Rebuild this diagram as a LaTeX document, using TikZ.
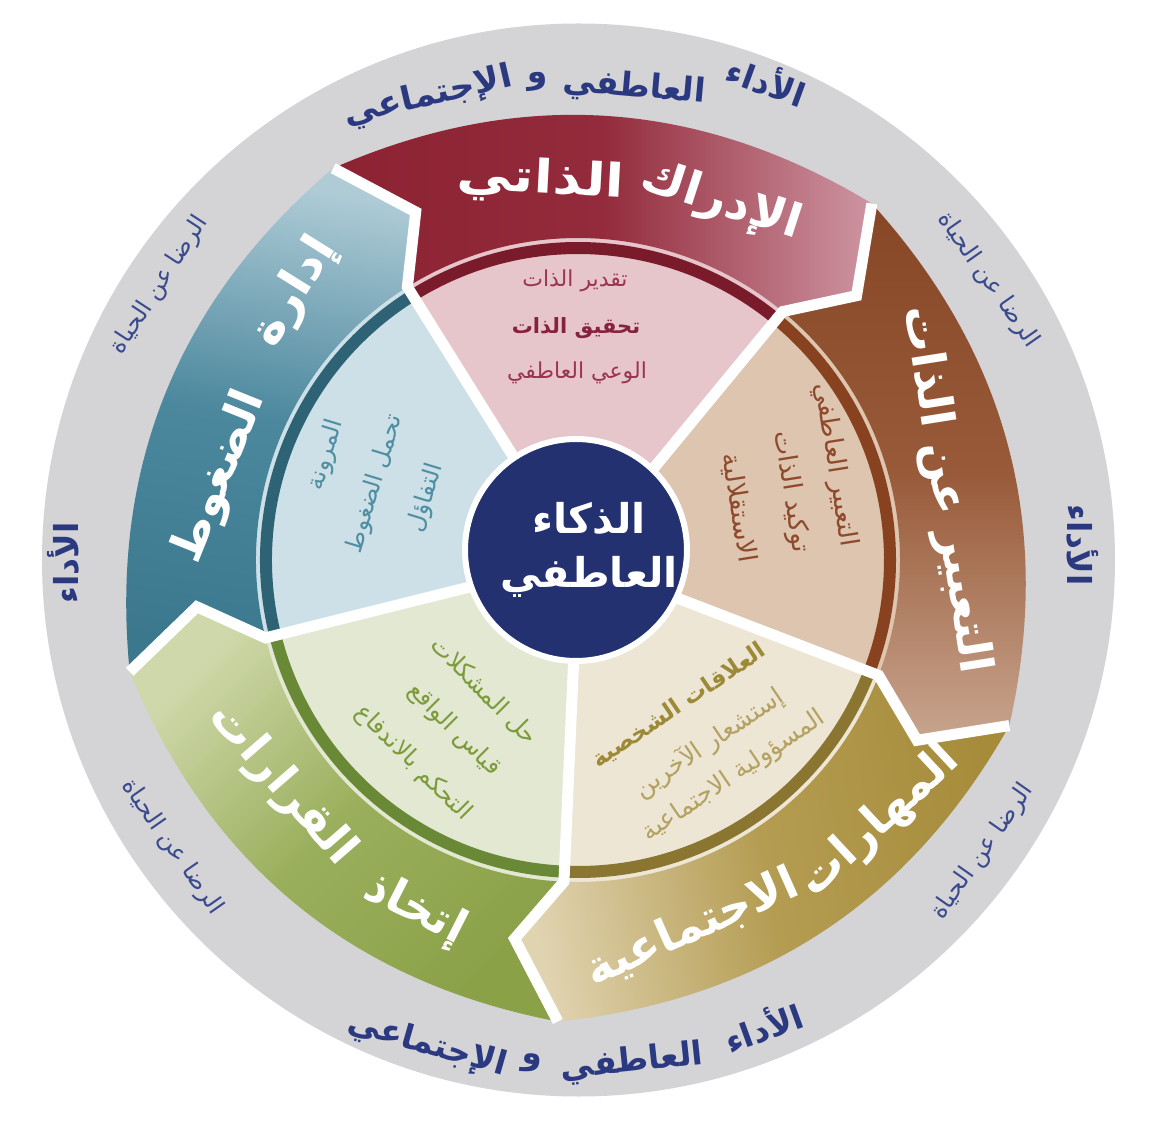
\documentclass[tikz,border=0pt]{standalone}
\usepackage{graphicx}
\usepackage{fontspec}
\usetikzlibrary{calc}
\newfontfamily\ar[Script=Arabic]{DejaVu Sans}
\TeXXeTstate=1
\newcommand{\AR}[1]{\beginR#1\endR}
\newcommand{\SX}[2]{\scalebox{#1}[1]{\beginR#2\endR}}

\definecolor{ringgrey}{HTML}{D4D4D6}
\definecolor{navyc}{HTML}{233170}
\definecolor{navyt}{HTML}{2B3A80}
\definecolor{lifec}{HTML}{3A4A8E}
\definecolor{redD}{HTML}{8C2232}
\definecolor{redM}{HTML}{932B3C}
\definecolor{redL}{HTML}{CE95A2}
\definecolor{brnD}{HTML}{874727}
\definecolor{brnM}{HTML}{985A39}
\definecolor{brnL}{HTML}{C8A58E}
\definecolor{gldD}{HTML}{A68C3A}
\definecolor{gldM}{HTML}{B49C52}
\definecolor{gldL}{HTML}{E0D3B0}
\definecolor{grnD}{HTML}{8AA148}
\definecolor{grnM}{HTML}{9AAF5C}
\definecolor{grnL}{HTML}{CFD8AA}
\definecolor{tealD}{HTML}{3B788E}
\definecolor{tealM}{HTML}{4B879D}
\definecolor{tealL}{HTML}{AECBD6}
\definecolor{pinkI}{HTML}{E6C5CB}
\definecolor{pinkB}{HTML}{7A1B2C}
\definecolor{beigeI}{HTML}{DDC5AF}
\definecolor{beigeB}{HTML}{88421F}
\definecolor{creamI}{HTML}{EDE6D4}
\definecolor{creamB}{HTML}{8A7631}
\definecolor{lgrnI}{HTML}{E2E8D1}
\definecolor{lgrnB}{HTML}{6A8936}
\definecolor{lblI}{HTML}{CDE0E7}
\definecolor{lblB}{HTML}{2E6376}
\definecolor{pinkT}{HTML}{9B3450}
\definecolor{pinkT2}{HTML}{862140}
\definecolor{beigeT}{HTML}{8E4A2C}
\definecolor{creamT}{HTML}{9C8A36}
\definecolor{creamT2}{HTML}{B3A262}
\definecolor{lgrnT}{HTML}{7D9B3C}
\definecolor{lblT}{HTML}{4F8FA3}

\tikzset{
  segred/.style={top color=redL, bottom color=redD, middle color=redM, shading angle=-90},
  segbrn/.style={top color=brnD, bottom color=brnL, middle color=brnM},
  seggld/.style={top color=gldL, bottom color=gldD, middle color=gldM, shading angle=100},
  seggrn/.style={top color=grnL, bottom color=grnD, middle color=grnM, shading angle=45},
  segteal/.style={top color=tealL, bottom color=tealD, middle color=tealM, shading angle=-10},
  gapline/.style={draw=white, line width=11pt, line join=miter},
  title/.style={text=white, inner sep=0pt, font=\ar\bfseries\fontsize{46}{52}\selectfont},
  ringtxt/.style={text=navyt, inner sep=0pt, font=\ar\bfseries\fontsize{33}{38}\selectfont},
  lifetxt/.style={text=lifec, inner sep=0pt, font=\ar\fontsize{24}{28}\selectfont},
  innertxt/.style={inner sep=0pt, font=\ar\fontsize{#1}{#1}\selectfont},
  innerbold/.style={inner sep=0pt, font=\ar\bfseries\fontsize{#1}{#1}\selectfont},
  core/.style={circle, fill=navyc, draw=white, line width=6pt, minimum size=222pt, inner sep=0pt},
  coretxt/.style={text=white, align=center, inner sep=0pt, font=\ar\bfseries\fontsize{41}{54}\selectfont}
}

\begin{document}
\begin{tikzpicture}[x=1pt,y=1pt]
\useasboundingbox (-578,-572) rectangle (571,560);
\fill[white] (-578,-572) rectangle (571,560);
\fill[ringgrey] (0.5,0) circle[radius=536.5];

% boundary points
\foreach \n/\a in {1/122,2/50.5,3/-21,4/-92.5,5/-166,6/-238}{
  \coordinate (O\n) at (\a:462);
  \coordinate (T\n) at (\a-7:384);
  \coordinate (I\n) at (\a:322);
  \coordinate (C\n) at (\a:90);
}
\foreach \k/\n/\a/\b in {1/2/122/50.5,2/3/50.5/-21,3/4/-21/-92.5,4/5/-92.5/-166,5/6/-166/-238}{
  \coordinate (M\k) at ({(\a+\b)/2}:445);
  \coordinate (Q\k) at ($2*(M\k)-0.5*(O\k)-0.5*(O\n)$);
  \coordinate (Pa\k) at ($(O\k)!2/3!(Q\k)$);
  \coordinate (Pb\k) at ($(O\n)!2/3!(Q\k)$);
}

% inner sectors and bands
\foreach \a/\b/\ci/\cb in {122/50.5/pinkI/pinkB, 50.5/-21/beigeI/beigeB, -21/-92.5/creamI/creamB, -92.5/-166/lgrnI/lgrnB, -166/-238/lblI/lblB}{
  \fill[\ci] (0,0) -- (\b:326) arc[start angle=\b, end angle=\a, radius=326pt] -- cycle;
  \fill[\cb] (\b:306) arc[start angle=\b, end angle=\a, radius=306pt] -- (\a:318) arc[start angle=\a, end angle=\b, radius=318pt] -- cycle;
}

% outer segments
\shade[segred] (O1) .. controls (Pa1) and (Pb1) .. (O2) -- (T2) -- (I2) arc[start angle=50.5, end angle=122, radius=322pt] -- (T1) -- cycle;
\shade[segbrn] (O2) .. controls (Pa2) and (Pb2) .. (O3) -- (T3) -- (I3) arc[start angle=-21, end angle=50.5, radius=322pt] -- (T2) -- cycle;
\shade[seggld] (O3) .. controls (Pa3) and (Pb3) .. (O4) -- (T4) -- (I4) arc[start angle=-92.5, end angle=-21, radius=322pt] -- (T3) -- cycle;
\shade[seggrn] (O4) .. controls (Pa4) and (Pb4) .. (O5) -- (T5) -- (I5) arc[start angle=-166, end angle=-92.5, radius=322pt] -- (T4) -- cycle;
\shade[segteal] (O5) .. controls (Pa5) and (Pb5) .. (O6) -- (T6) -- (I6) arc[start angle=-238, end angle=-166, radius=322pt] -- (T5) -- cycle;

% white gaps
\foreach \k in {1,...,5}{
  \draw[gapline] (C\k) -- (I\k) -- (T\k) -- (O\k);
}

% centre
\node[core] (core) at (-2,10) {};
\node[coretxt] (coretext) at (11,10) {\AR{الذكاء}\\\AR{العاطفي}};

% titles
\node[title, rotate=-3] (t1a) at (-37,379) {\SX{1.2}{الذاتي}};
\node[title, rotate=-18] (t1b) at (143,358) {\SX{1.05}{الإدراك}};
\node[title, rotate=-81] (t2) at (367,70) {\AR{التعبير عن الذات}};
\node[title, rotate=43] (t3a) at (302,-262) {\AR{المهارات}};
\node[title, rotate=24] (t3b) at (114,-368) {\AR{الاجتماعية}};
\node[title, rotate=-27] (t4a) at (-163,-350) {\AR{إتخاذ}};
\node[title, rotate=-49] (t4b) at (-296,-225) {\AR{القرارات}};
\node[title, rotate=58] (t5a) at (-283,268) {\SX{1.1}{إدارة}};
\node[title, rotate=68] (t5b) at (-358,83) {\AR{الضغوط}};

% inner texts
\node[innertxt=22, text=pinkT] (p1) at (-3,279) {\AR{تقدير الذات}};
\node[innerbold=21, text=pinkT2] (p2) at (-2,232) {\AR{تحقيق الذات}};
\node[innertxt=22, text=pinkT] (p3) at (-1,187) {\AR{الوعي العاطفي}};
\node[innertxt=26, text=beigeT, rotate=-81] (b1) at (257,95) {\AR{التعبير العاطفي}};
\node[innertxt=26, text=beigeT, rotate=-81] (b2) at (213,68) {\AR{توكيد الذات}};
\node[innertxt=26, text=beigeT, rotate=-81] (b3) at (161,52) {\AR{الاستقلالية}};
\node[innerbold=23, text=creamT, rotate=34] (c1) at (101,-146) {\AR{العلاقات الشخصية}};
\node[innertxt=25, text=creamT2, rotate=34] (c2) at (131,-183) {\AR{إستشعار الآخرين}};
\node[innertxt=25, text=creamT2, rotate=34] (c3) at (156,-216) {\AR{المسؤولية الاجتماعية}};
\node[innertxt=24, text=lgrnT, rotate=-45] (g1) at (-94,-131) {\AR{حل المشكلات}};
\node[innertxt=24, text=lgrnT, rotate=-45] (g2) at (-124,-170) {\AR{قياس الواقع}};
\node[innertxt=24, text=lgrnT, rotate=-45] (g3) at (-165,-203) {\AR{التحكم بالاندفاع}};
\node[innertxt=24, text=lblT, rotate=73] (l1) at (-252,105) {\AR{المرونة}};
\node[innertxt=24, text=lblT, rotate=73] (l2) at (-203,76) {\AR{تحمل الضغوط}};
\node[innertxt=24, text=lblT, rotate=73] (l3) at (-152,62) {\AR{التفاؤل}};

% outer ring texts
\node[ringtxt, rotate=-20] (r1) at (189,480) {\AR{الأداء}};
\node[ringtxt, rotate=-5] (r2) at (56,472) {\AR{العاطفي}};
\node[ringtxt, rotate=3] (r3) at (-40,478) {\AR{و}};
\node[ringtxt, rotate=13] (r4) at (-150,463) {\SX{1.05}{الإجتماعي}};
\node[ringtxt, rotate=20] (r5) at (185,-466) {\AR{الأداء}};
\node[ringtxt, rotate=6] (r6) at (54,-503) {\AR{العاطفي}};
\node[ringtxt, rotate=-5] (r7) at (-46,-503) {\AR{و}};
\node[ringtxt, rotate=-16] (r8) at (-151,-485) {\AR{الإجتماعي}};
\node[ringtxt, rotate=90] (r9) at (-515,-3) {\AR{الأداء}};
\node[ringtxt, rotate=-90] (r10) at (505,15) {\AR{الأداء}};

\node[lifetxt, rotate=-55] (s1) at (410,280) {\AR{الرضا عن الحياة}};
\node[lifetxt, rotate=55] (s2) at (405,-292) {\AR{الرضا عن الحياة}};
\node[lifetxt, rotate=-55] (s3) at (-406,-287) {\AR{الرضا عن الحياة}};
\node[lifetxt, rotate=57] (s4) at (-418,275) {\AR{الرضا عن الحياة}};
\end{tikzpicture}
\end{document}
